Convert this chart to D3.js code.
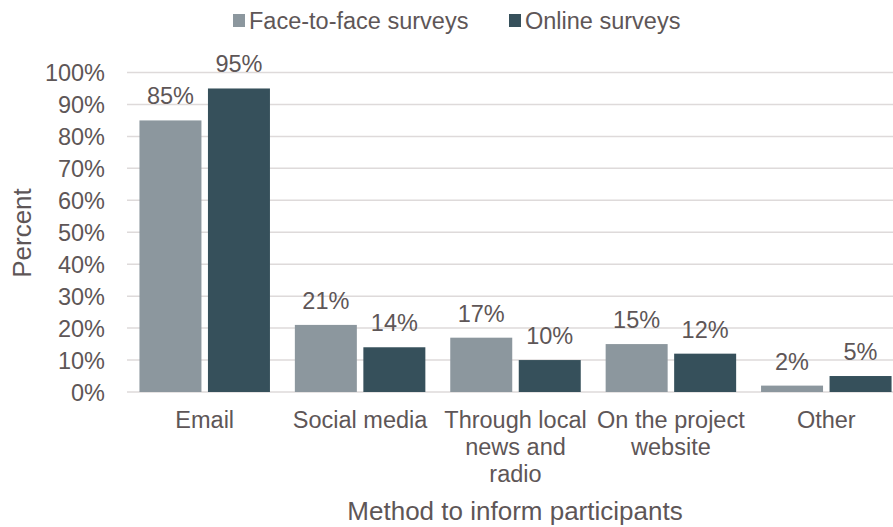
<!DOCTYPE html>
<html>
<head>
<meta charset="utf-8">
<script src="https://cdn.jsdelivr.net/npm/d3@7"></script>
<style>
  html, body { margin: 0; padding: 0; background: #fff; }
  svg { display: block; font-family: "Liberation Sans", Arial, sans-serif; }
</style>
</head>
<body>
<svg id="chart" width="893" height="527"></svg>
<script>
// Survey data: how participants were informed, by survey mode
const categories = ["Email", "Social media", "Through local news and radio", "On the project website", "Other"];
const categoryLines = [["Email"], ["Social media"], ["Through local", "news and", "radio"], ["On the project", "website"], ["Other"]];
const seriesNames = ["Face-to-face surveys", "Online surveys"];
const faceToFace = [85, 21, 17, 15, 2];
const online = [95, 14, 10, 12, 5];
const yTicks = [0, 10, 20, 30, 40, 50, 60, 70, 80, 90, 100];

const colors = { "Face-to-face surveys": "#8C979E", "Online surveys": "#36505B" };
const textColor = "#5E5657";
const gridColor = "#DEDADA";

const svg = d3.select("#chart");

const left = 127, step = 155.4;
const x0 = d3.scaleBand().domain(categories).range([left, left + step * categories.length]).padding(0);
const x1 = d3.scaleBand().domain(seriesNames).range([12.45, step - 12.45]).paddingInner(0.095).paddingOuter(0);
const y = d3.scaleLinear().domain([0, 100]).range([392, 72.5]);

const rows = categories.map((c, i) => ({ cat: c, values: [
  { s: seriesNames[0], v: faceToFace[i] },
  { s: seriesNames[1], v: online[i] }
]}));

// Gridlines
svg.append("g")
  .selectAll("line")
  .data(yTicks)
  .join("line")
  .attr("x1", left).attr("x2", 893)
  .attr("y1", d => y(d)).attr("y2", d => y(d))
  .attr("stroke", gridColor).attr("stroke-width", 1.5);

// Y axis tick labels
const yAxis = d3.axisLeft(y).tickValues(yTicks).tickFormat(d => d + "%").tickSize(0).tickPadding(0);
const yg = svg.append("g").attr("transform", "translate(105,0)").call(yAxis);
yg.select(".domain").remove();
yg.selectAll("text")
  .attr("fill", textColor)
  .style("font-size", "23.5px")
  .attr("dy", "0.36em");

// Bars
const groups = svg.append("g")
  .selectAll("g")
  .data(rows)
  .join("g")
  .attr("transform", d => `translate(${x0(d.cat)},0)`);

groups.selectAll("rect")
  .data(d => d.values)
  .join("rect")
  .attr("x", d => x1(d.s))
  .attr("width", x1.bandwidth())
  .attr("y", d => y(d.v))
  .attr("height", d => y(0) - y(d.v))
  .attr("fill", d => colors[d.s]);

// Value labels
groups.selectAll("text")
  .data(d => d.values)
  .join("text")
  .attr("x", d => x1(d.s) + x1.bandwidth() / 2)
  .attr("y", d => y(d.v) - 16)
  .attr("text-anchor", "middle")
  .attr("fill", textColor)
  .style("font-size", "23.5px")
  .text(d => d.v + "%");

// Category labels
const catG = svg.append("g");
categories.forEach((c, i) => {
  const t = catG.append("text")
    .attr("x", x0(c) + x0.bandwidth() / 2)
    .attr("y", 428)
    .attr("text-anchor", "middle")
    .attr("fill", textColor)
    .style("font-size", "23.5px");
  categoryLines[i].forEach((line, j) => {
    t.append("tspan")
      .attr("x", x0(c) + x0.bandwidth() / 2)
      .attr("dy", j === 0 ? 0 : 27)
      .text(line);
  });
});

// Axis titles
svg.append("text")
  .attr("x", 515).attr("y", 520)
  .attr("text-anchor", "middle")
  .attr("fill", textColor)
  .style("font-size", "26px")
  .text("Method to inform participants");

svg.append("text")
  .attr("transform", "translate(31,233) rotate(-90)")
  .attr("text-anchor", "middle")
  .attr("fill", textColor)
  .style("font-size", "26px")
  .text("Percent");

// Legend
const legendItems = [{ s: seriesNames[0], x: 233 }, { s: seriesNames[1], x: 509 }];
const lg = svg.append("g");
legendItems.forEach(d => {
  lg.append("rect")
    .attr("x", d.x).attr("y", 14)
    .attr("width", 12).attr("height", 13)
    .attr("fill", colors[d.s]);
  lg.append("text")
    .attr("x", d.x + 16).attr("y", 29)
    .attr("fill", textColor)
    .style("font-size", "23.5px")
    .text(d.s);
});
</script>
</body>
</html>
